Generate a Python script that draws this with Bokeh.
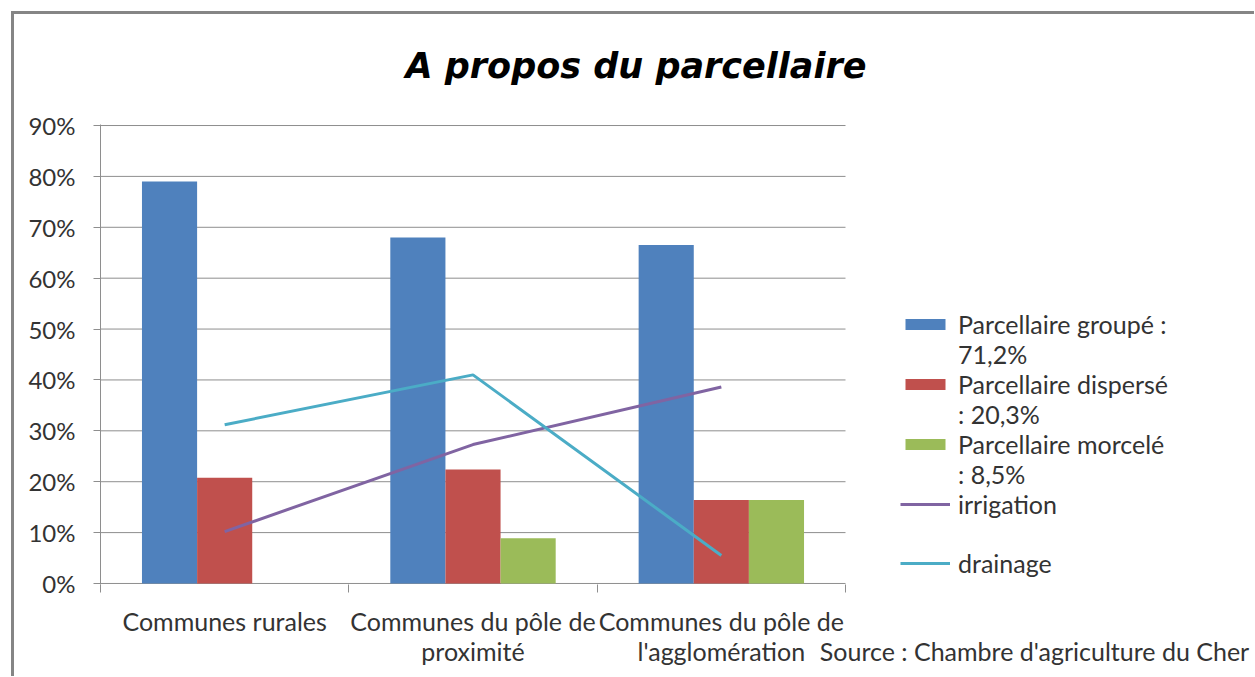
from bokeh.plotting import figure
from bokeh.models import FixedTicker, PrintfTickFormatter, Legend, LegendItem, Range1d
from bokeh.embed import file_html
from bokeh.resources import INLINE

# ---- data ----
categories = ["Communes rurales", "Communes du pôle de\nproximité", "Communes du pôle de\nl'agglomération"]
groupe = [79.0, 68.0, 66.5]
disperse = [20.8, 22.4, 16.4]
morcele = [0.0, 8.9, 16.4]
irrigation = [10.2, 27.3, 38.6]
drainage = [31.2, 41.0, 5.5]
y_ticks = [0, 10, 20, 30, 40, 50, 60, 70, 80, 90]
legend_labels = ["Parcellaire groupé :", "71,2%", "Parcellaire dispersé", ": 20,3%",
                 "Parcellaire morcelé", ": 8,5%", "irrigation", " ", "drainage"]
source_text = "Source : Chambre d'agriculture du Cher"

FONT = "Lato"
C_BLUE, C_RED, C_GREEN, C_PURPLE, C_CYAN = "#4f81bd", "#c0504d", "#9bbb59", "#8064a2", "#4bacc6"
GRID = "#8e8e8e"
TXT = "#333333"

# ---- layout (pixels) ----
W, H = 1254, 676
F_LEFT, F_TOP, F_BOTTOM, F_RIGHT = 100, 124, 584, 1245
PLOT_RIGHT = 845          # where the category axis ends
SRC_CENTER = 1034         # horizontal centre of the source line
n = len(categories)
px_per_unit = (PLOT_RIGHT - F_LEFT) / n
x_end = (F_RIGHT - F_LEFT) / px_per_unit
x_src = (SRC_CENTER - F_LEFT) / px_per_unit

xc = [i + 0.5 for i in range(n)]
bw = 0.222

p = figure(width=W, height=H, x_range=Range1d(0, x_end), y_range=Range1d(-0.2, 90.2),
           output_backend="svg", toolbar_location=None,
           min_border_left=F_LEFT, min_border_right=W - F_RIGHT,
           min_border_top=F_TOP, min_border_bottom=H - F_BOTTOM)
p.border_fill_color = None
p.background_fill_color = None
p.outline_line_color = None
p.styles = {"background": "white",
            "box-shadow": "inset 11px 11px 0 #ffffff, inset 14px 14px 0 #858585"}

# grid lines limited to the category area
p.xgrid.grid_line_color = None
p.ygrid.grid_line_color = None
p.segment(x0=[0] * len(y_ticks), x1=[n] * len(y_ticks), y0=y_ticks, y1=y_ticks,
          line_color=GRID, line_width=1)

r_g = p.vbar(x=[x - bw for x in xc], top=groupe, width=bw, fill_color=C_BLUE, line_color=None)
r_d = p.vbar(x=xc, top=disperse, width=bw, fill_color=C_RED, line_color=None)
r_m = p.vbar(x=[x + bw for x in xc], top=morcele, width=bw, fill_color=C_GREEN, line_color=None)
r_i = p.line(x=xc, y=irrigation, line_color=C_PURPLE, line_width=3)
r_dr = p.line(x=xc, y=drainage, line_color=C_CYAN, line_width=3)
dummy = p.line(x=[0], y=[0], line_alpha=0)

# title
p.title.text = "A propos du parcellaire"
p.title.text_font = "DejaVu Sans"
p.title.text_font_size = "35px"
p.title.text_font_style = "bold italic"
p.title.text_color = "#000000"
p.title.align = "left"
p.title.offset = 305
p.title.standoff = 77

# y axis
p.yaxis.ticker = FixedTicker(ticks=y_ticks)
p.yaxis.formatter = PrintfTickFormatter(format="%d%%")
p.yaxis.axis_line_color = GRID
p.yaxis.major_tick_line_color = GRID
p.yaxis.major_tick_out = 7
p.yaxis.major_tick_in = 0
p.yaxis.minor_tick_line_color = None
p.yaxis.major_label_text_font = FONT
p.yaxis.major_label_text_font_size = "24px"
p.yaxis.major_label_text_color = TXT
p.yaxis.major_label_standoff = 18

# x axis (categories + source line as an extra, second-line label)
xax = p.xaxis[0]
tick_labels = {x: c for x, c in zip(xc, categories)}
tick_labels[x_src] = "\n" + source_text
xax.ticker = FixedTicker(ticks=xc + [x_src], minor_ticks=list(range(n + 1)))
xax.axis_line_color = None
xax.major_tick_line_color = None
xax.major_tick_out = 0
xax.major_tick_in = 0
xax.minor_tick_line_color = GRID
xax.minor_tick_out = 8
xax.minor_tick_in = 0
xax.major_label_text_font = FONT
xax.major_label_text_font_size = "25px"
xax.major_label_text_line_height = 1.03
xax.major_label_text_color = TXT
xax.major_label_standoff = 13
xax.major_label_overrides = tick_labels

# legend
rend = [r_g, dummy, r_d, dummy, r_m, dummy, r_i, dummy, r_dr]
items = [LegendItem(label=l, renderers=[r]) for l, r in zip(legend_labels, rend)]
legend = Legend(items=items, location=(800, 6), label_text_font=FONT, label_text_font_size="25px",
                label_text_color=TXT, glyph_width=50, glyph_height=14, label_height=29,
                label_standoff=8, spacing=0, padding=0, margin=0, border_line_alpha=0,
                background_fill_alpha=0)
p.add_layout(legend, "center")

open("out.html", "w").write(file_html(p, INLINE))
